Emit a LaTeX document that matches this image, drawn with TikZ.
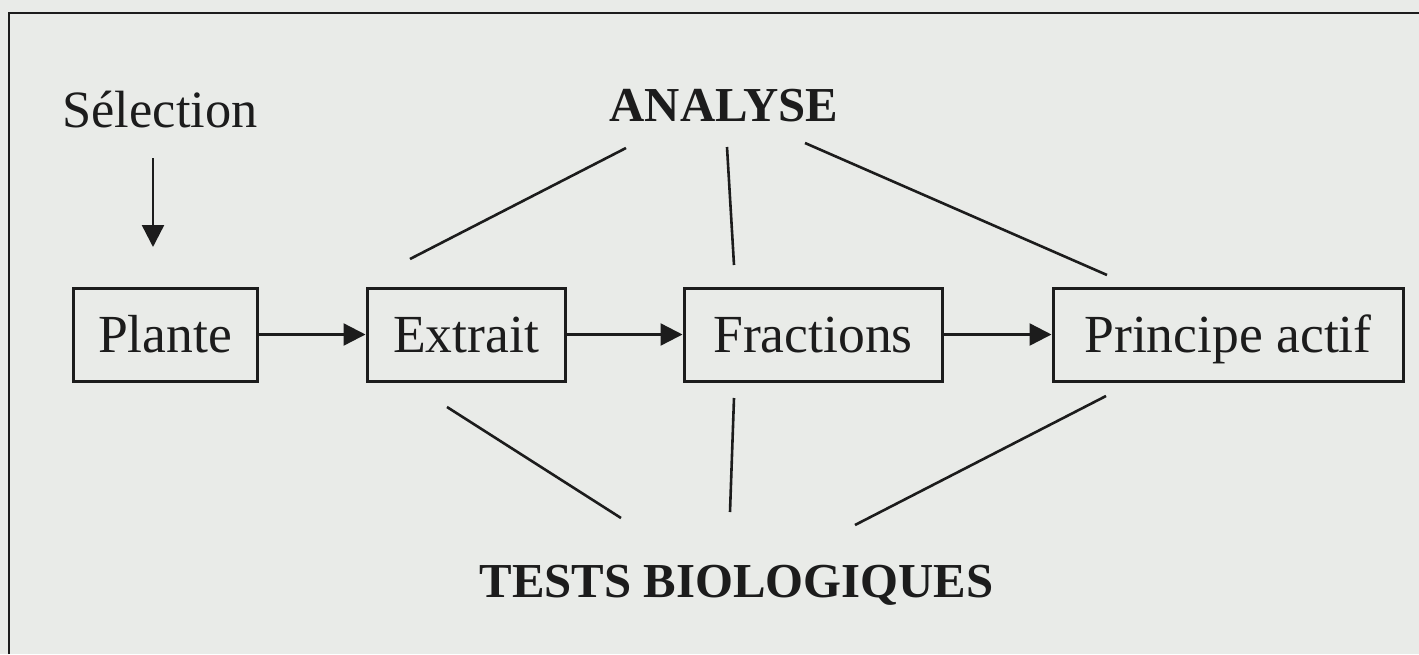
\documentclass[tikz,border=0pt]{standalone}
\usepackage{fontspec}
\setmainfont{Liberation Serif}
\usetikzlibrary{arrows.meta}
\definecolor{paper}{HTML}{E9EBE8}
\definecolor{ink}{HTML}{1C1C1C}
\begin{document}
\begin{tikzpicture}[x=0.5pt,y=-0.5pt,
  stagebox/.style={draw=ink,line width=1.5pt,inner sep=0pt,text height=18pt,text depth=0pt,
    minimum height=46.5pt,font=\fontsize{26.8}{30}\selectfont,text=ink},
  title/.style={anchor=base,font=\fontsize{24.4}{28}\selectfont\bfseries,text=ink,inner sep=0pt},
  plain/.style={anchor=base,font=\fontsize{26.2}{30}\selectfont,text=ink,inner sep=0pt},
  link/.style={draw=ink,line width=1.3pt},
  flow/.style={draw=ink,line width=1.2pt,-{Triangle[length=11pt,width=11pt]}}]
\useasboundingbox (0,0) rectangle (1419,654);
\fill[paper] (0,0) rectangle (1419,654);
\draw[ink,line width=1.4pt] (9,654) -- (9,13) -- (1419,13);

\node[stagebox,minimum width=92pt] (plante) at (165,334.5) {Plante};
\node[stagebox,minimum width=99pt] (extrait) at (466,334.5) {Extrait};
\node[stagebox,minimum width=129pt] (fractions) at (813,334.5) {Fractions};
\node[stagebox,minimum width=175pt] (principe) at (1228,334.5) {Principe actif};

\node[plain] (selection) at (160,127) {Sélection};
\node[title] (analyse) at (724,121) {ANALYSE};
\node[title] (tests) at (736.5,597) {TESTS BIOLOGIQUES};

\coordinate (selstart) at (153,158);
\coordinate (selend) at (153,247);
\draw[flow] (selstart) -- (selend);

\draw[flow] (plante.east) -- (extrait.west);
\draw[flow] (extrait.east) -- (fractions.west);
\draw[flow] (fractions.east) -- (principe.west);

\coordinate (a1s) at (626,148); \coordinate (a1e) at (410,259);
\coordinate (a2s) at (727,147); \coordinate (a2e) at (734,265);
\coordinate (a3s) at (805,143); \coordinate (a3e) at (1107,275);
\draw[link] (a1s) -- (a1e);
\draw[link] (a2s) -- (a2e);
\draw[link] (a3s) -- (a3e);

\coordinate (b1s) at (447,407); \coordinate (b1e) at (621,518);
\coordinate (b2s) at (734,398); \coordinate (b2e) at (730,512);
\coordinate (b3s) at (1106,396); \coordinate (b3e) at (855,525);
\draw[link] (b1s) -- (b1e);
\draw[link] (b2s) -- (b2e);
\draw[link] (b3s) -- (b3e);
\end{tikzpicture}
\end{document}
